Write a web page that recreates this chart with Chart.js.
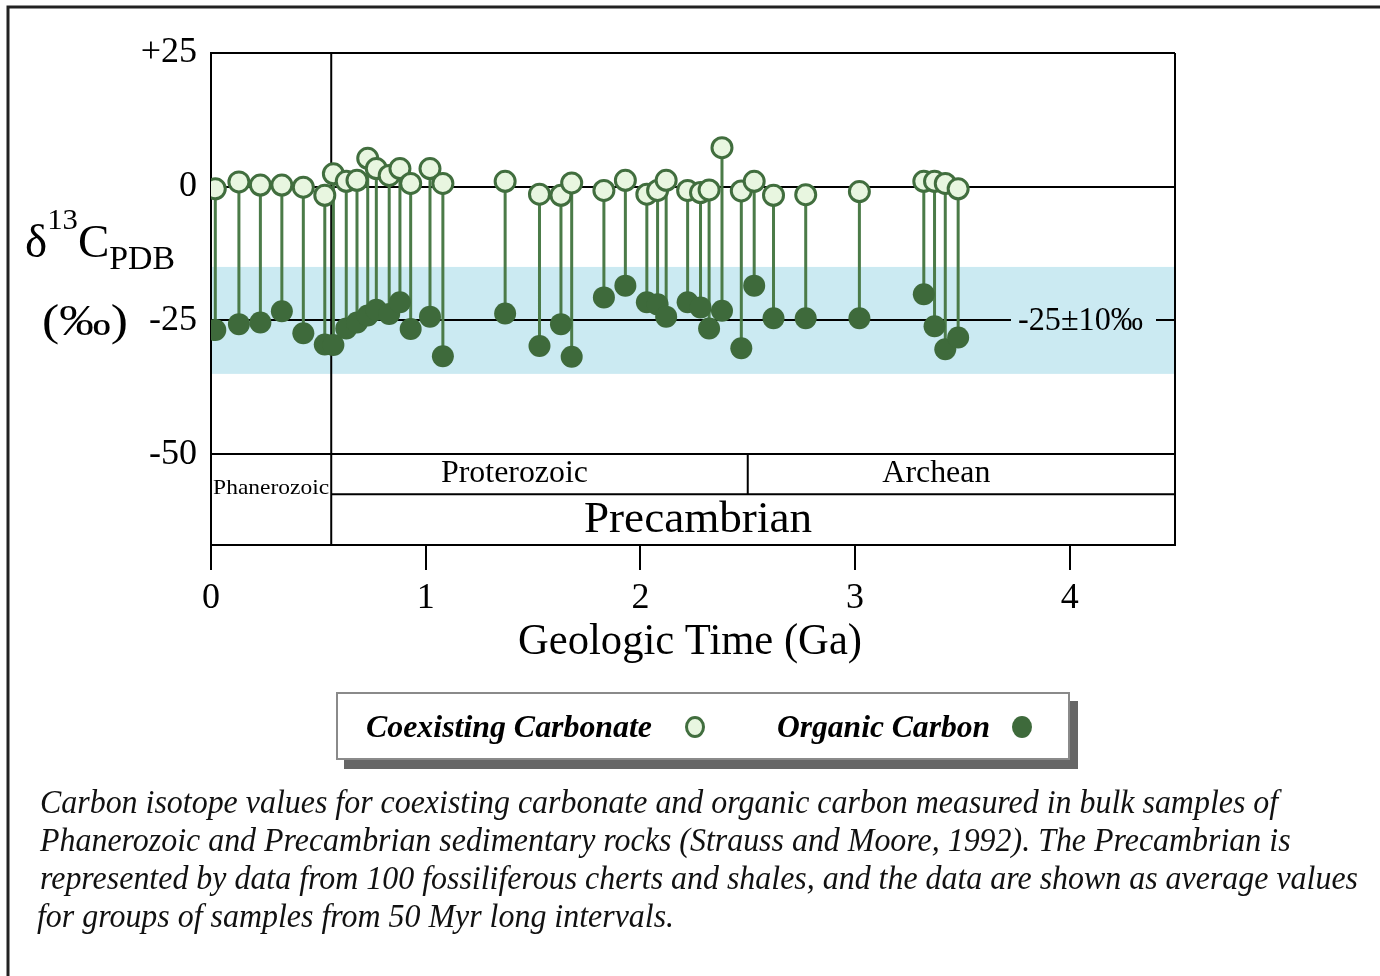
<!DOCTYPE html>
<html>
<head>
<meta charset="utf-8">
<script src="https://cdn.jsdelivr.net/npm/chart.js@4.4.0/dist/chart.umd.min.js"></script>
<style>
  html, body { margin: 0; padding: 0; background: #fff; }
  #wrap { position: relative; width: 1380px; height: 976px; overflow: hidden; }
  #c { position: absolute; left: 0; top: 0; }
  .legend { position: absolute; left: 336px; top: 692px; width: 730px; height: 64px;
    border: 2px solid #8a8a8a; background: #fff; box-shadow: 8px 9px 0 #666; }
  .lg { position: absolute; font: italic bold 32px 'Liberation Serif', 'Times New Roman', Times, serif; white-space: nowrap;
    transform-origin: left center; line-height: 38px; color: #000; }
  .mk { position: absolute; width: 20px; height: 22px; border-radius: 50%; box-sizing: border-box; }
  .cap { position: absolute; left: 40px; font: italic 33px 'Liberation Serif', 'Times New Roman', Times, serif; white-space: nowrap;
    transform-origin: left center; line-height: 38px; color: #111; }
</style>
</head>
<body>
<div id="wrap">
  <canvas id="c" width="1380" height="976"></canvas>
  <div class="legend"></div>
  <div class="lg" id="lg1" style="left:366px;top:707px">Coexisting Carbonate</div>
  <div class="mk" style="left:685px;top:716px;background:#e8f6e0;border:3px solid #416e3e"></div>
  <div class="lg" id="lg2" style="left:777px;top:707px">Organic Carbon</div>
  <div class="mk" style="left:1012px;top:716px;background:#3e6a3b"></div>
  <div class="cap" style="top:783px">Carbon isotope values for coexisting carbonate and organic carbon measured in bulk samples of</div>
  <div class="cap" style="top:821px">Phanerozoic and Precambrian sedimentary rocks (Strauss and Moore, 1992). The Precambrian is</div>
  <div class="cap" id="cap3" style="top:859px">represented by data from 100 fossiliferous cherts and shales, and the data are shown as average values</div>
  <div class="cap" style="top:897px;left:37px">for groups of samples from 50 Myr long intervals.</div>
</div>
<script>
// age in Ga, values in per mil
const ages = [0.02, 0.13, 0.23, 0.33, 0.43, 0.53, 0.57, 0.63, 0.68, 0.73, 0.77, 0.83, 0.88, 0.93,
  1.02, 1.08, 1.37, 1.53, 1.63, 1.68, 1.83, 1.93, 2.03, 2.08, 2.12, 2.22, 2.28, 2.32, 2.38,
  2.47, 2.53, 2.62, 2.77, 3.02, 3.32, 3.37, 3.42, 3.48];
const carbonate = [-0.4, 0.9, 0.3, 0.3, -0.1, -1.6, 2.4, 1.0, 1.2, 5.3, 3.4, 2.1, 3.4, 0.6,
  3.4, 0.6, 1.0, -1.4, -1.6, 0.7, -0.7, 1.2, -1.4, -0.7, 1.2, -0.7, -1.1, -0.6, 7.3,
  -0.8, 1.0, -1.6, -1.5, -0.9, 1.0, 1.0, 0.6, -0.4];
const organic = [-26.8, -25.7, -25.4, -23.3, -27.4, -29.5, -29.6, -26.5, -25.4, -24.1, -23.0, -23.8, -21.6, -26.6,
  -24.3, -31.7, -23.7, -29.8, -25.7, -31.8, -20.7, -18.5, -21.6, -22.0, -24.3, -21.6, -22.6, -26.5, -23.2,
  -30.2, -18.5, -24.6, -24.6, -24.6, -20.1, -26.1, -30.4, -28.2];
const yTicks = [25, 0, -25, -50];
const xTicks = [0, 1, 2, 3, 4];
const band = [-35, -15];
const eraBounds = [0.56, 2.5];
const eraRow = -57.5;

const serif = "'Liberation Serif', 'Times New Roman', Times, serif";

// stems: carbonate -> organic, broken by nulls
const stems = [];
ages.forEach((a, i) => {
  stems.push({ x: a, y: carbonate[i] }, { x: a, y: organic[i] }, { x: a, y: null });
});

function fitText(ctx, s, x, y, size, w, align, style) {
  ctx.save();
  ctx.font = (style || '') + ' ' + size + 'px ' + serif;
  const sx = w ? w / ctx.measureText(s).width : 1;
  ctx.translate(x, y);
  ctx.scale(sx, 1);
  ctx.textAlign = align || 'center';
  ctx.textBaseline = 'middle';
  ctx.fillStyle = '#000';
  ctx.fillText(s, 0, 0);
  ctx.restore();
}

const decor = {
  id: 'decor',
  beforeDraw(chart) {
    const { ctx, chartArea: a, scales: { y } } = chart;
    const t = y.getPixelForValue(band[1]), b = y.getPixelForValue(band[0]);
    ctx.save();
    ctx.fillStyle = '#cbeaf2';
    ctx.fillRect(a.left, t, a.right - a.left, b - t);
    ctx.restore();
  },
  beforeDatasetsDraw(chart) {
    const { ctx, chartArea: a, scales: { x, y } } = chart;
    ctx.save();
    ctx.strokeStyle = '#000';
    ctx.lineWidth = 2;
    const xb = x.getPixelForValue(eraBounds[0]);
    const xa = x.getPixelForValue(eraBounds[1]);
    const y50 = y.getPixelForValue(-50), yr = y.getPixelForValue(eraRow);
    ctx.beginPath();
    ctx.moveTo(a.right, a.top); ctx.lineTo(a.right, a.bottom);
    ctx.moveTo(xb, a.top); ctx.lineTo(xb, a.bottom);
    ctx.moveTo(xb, yr); ctx.lineTo(a.right, yr);
    ctx.moveTo(xa, y50); ctx.lineTo(xa, yr);
    ctx.stroke();
    // gap in the -25 line for its label
    const y25 = y.getPixelForValue(-25);
    ctx.fillStyle = '#cbeaf2';
    ctx.fillRect(1011, y25 - 4, 145, 8);
    ctx.restore();
    fitText(ctx, '-25\u00b110\u2030', 1018, y25 + 1, 34, 125, 'left');
    fitText(ctx, 'Phanerozoic', (a.left + xb) / 2, 488, 22, 116);
    fitText(ctx, 'Proterozoic', (xb + xa) / 2 - 25, 474, 31, 147);
    fitText(ctx, 'Archean', (xa + a.right) / 2 - 25, 474, 31, 108);
    fitText(ctx, 'Precambrian', 698, 520, 45, 228);
  },
  afterDraw(chart) {
    const ctx = chart.ctx;
    fitText(ctx, 'Geologic Time (Ga)', 690, 642, 45, 344);
    // y axis title: delta 13 C PDB, squeezed to the reference width
    const parts = [['\u03b4', 46, 257], ['13', 30, 229], ['C', 46, 257], ['PDB', 33, 269]];
    ctx.save();
    let total = 0;
    parts.forEach(p => { ctx.font = p[1] + 'px ' + serif; total += ctx.measureText(p[0]).width; });
    ctx.fillStyle = '#000';
    ctx.textBaseline = 'alphabetic';
    ctx.translate(25, 0);
    ctx.scale(150 / total, 1);
    let px = 0;
    parts.forEach(p => {
      ctx.font = p[1] + 'px ' + serif;
      ctx.fillText(p[0], px, p[2]);
      px += ctx.measureText(p[0]).width;
    });
    ctx.restore();
    fitText(ctx, '(\u2030)', 85, 323, 44, 86);
    // outer frame
    ctx.save();
    ctx.strokeStyle = '#222';
    ctx.lineWidth = 3;
    ctx.beginPath();
    ctx.moveTo(8, 990); ctx.lineTo(8, 7); ctx.lineTo(1390, 7);
    ctx.stroke();
    ctx.restore();
  }
};

new Chart(document.getElementById('c'), {
  type: 'scatter',
  data: {
    datasets: [
      {
        label: 'Coexisting Carbonate',
        data: ages.map((a, i) => ({ x: a, y: carbonate[i] })),
        pointRadius: 10,
        pointBorderWidth: 3,
        pointBackgroundColor: '#e8f6e0',
        pointBorderColor: '#416e3e',
        order: 1
      },
      {
        label: 'Organic Carbon',
        data: ages.map((a, i) => ({ x: a, y: organic[i] })),
        pointRadius: 11,
        pointBorderWidth: 0,
        pointBackgroundColor: '#3e6a3b',
        pointBorderColor: '#3e6a3b',
        order: 2
      },
      {
        label: 'stems',
        data: stems,
        showLine: true,
        spanGaps: false,
        pointRadius: 0,
        borderColor: '#4b7b48',
        borderWidth: 3,
        order: 3
      }
    ]
  },
  options: {
    responsive: false,
    animation: false,
    devicePixelRatio: 1,
    layout: { padding: { left: 0, top: 53, right: 205, bottom: 331 } },
    plugins: { legend: { display: false }, tooltip: { enabled: false } },
    scales: {
      x: {
        type: 'linear',
        min: 0,
        max: 4.49,
        offset: false,
        afterBuildTicks: (s) => { s.ticks = xTicks.map(v => ({ value: v })); },
        afterFit: (s) => { s.height = 100; },
        ticks: { color: '#000', font: { family: serif, size: 36 }, padding: 7 },
        grid: { drawOnChartArea: false, tickLength: 25, color: '#000', lineWidth: 2 },
        border: { color: '#000', width: 2 }
      },
      y: {
        min: -67,
        max: 25,
        afterBuildTicks: (s) => { s.ticks = yTicks.map(v => ({ value: v })); },
        afterFit: (s) => { s.width = 211; },
        ticks: {
          color: '#000',
          font: { family: serif, size: 36 },
          padding: 14,
          callback: (v) => (v > 0 ? '+' + v : String(v))
        },
        grid: { color: '#000', lineWidth: 2, drawTicks: false, tickLength: 0 },
        border: { color: '#000', width: 2 }
      }
    }
  },
  plugins: [decor]
});

// squeeze HTML text to the reference widths
function squeeze(el, w) {
  const s = w / el.getBoundingClientRect().width;
  el.style.transform = 'scaleX(' + s + ')';
  return s;
}
const cs = squeeze(document.getElementById('cap3'), 1318);
document.querySelectorAll('.cap').forEach(el => { el.style.transform = 'scaleX(' + cs + ')'; });
squeeze(document.getElementById('lg1'), 286);
squeeze(document.getElementById('lg2'), 213);
</script>
</body>
</html>
